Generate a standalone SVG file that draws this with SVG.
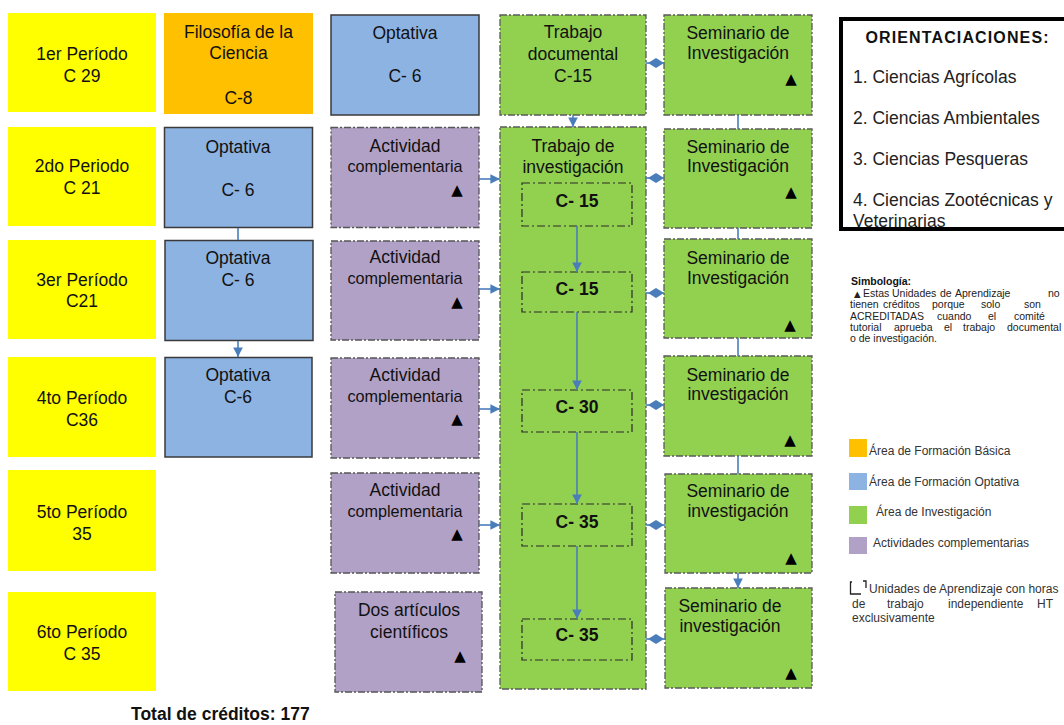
<svg xmlns="http://www.w3.org/2000/svg" width="1064" height="725" viewBox="0 0 1064 725">
<defs>
<style>
text{font-family:"Liberation Sans",Arial,sans-serif;fill:#111}
.t{font-size:17.5px;text-anchor:middle}
.tc{font-size:16.2px;text-anchor:middle}
.tb{font-size:17.5px;font-weight:bold;text-anchor:middle}
.tri{font-family:"DejaVu Sans",sans-serif;font-size:15px;text-anchor:middle;fill:#000}
.per{fill:#FFFF00}
.bas{fill:#FFC000}
.opt{fill:#8DB3E2;stroke:#3A3A3A;stroke-width:1.5}
.act{fill:#B2A1C7;stroke:#555;stroke-width:1.3;stroke-dasharray:7 2 2 2}
.inv{fill:#92D050;stroke:#5A5A5A;stroke-width:1.3;stroke-dasharray:7 2 2 2}
.inner{fill:none;stroke:#2A2A2A;stroke-width:1.2;stroke-dasharray:8 3 2 3}
.con{stroke:#4A7EBB;stroke-width:1.6;fill:none}
.dia{fill:#4A7EBB}
.ori{font-size:17.5px;fill:#222}
.leg{font-size:12px;fill:#333}
.par{font-size:10.5px;fill:#222}
</style>
<marker id="arr" viewBox="0 0 10 10" refX="10" refY="5" markerWidth="6" markerHeight="6" orient="auto" markerUnits="strokeWidth">
<path d="M0,0 L10,5 L0,10 z" fill="#4A7EBB"/>
</marker>
<clipPath id="oriClip"><rect x="843" y="21" width="240" height="206"/></clipPath>
</defs>
<rect width="1064" height="725" fill="#fff"/>

<!-- Period column -->
<g id="p1"><rect class="per" x="8" y="13" width="148" height="99"/><text class="t" x="82" y="60">1er Período</text><text class="t" x="82" y="82">C 29</text></g>
<g id="p2"><rect class="per" x="8" y="127" width="148" height="99"/><text class="t" x="82" y="172">2do Periodo</text><text class="t" x="82" y="194">C 21</text></g>
<g id="p3"><rect class="per" x="8" y="240" width="148" height="99"/><text class="t" x="82" y="286">3er Período</text><text class="t" x="82" y="307">C21</text></g>
<g id="p4"><rect class="per" x="8" y="357" width="148" height="100"/><text class="t" x="82" y="404">4to Período</text><text class="t" x="82" y="426">C36</text></g>
<g id="p5"><rect class="per" x="8" y="470" width="148" height="101"/><text class="t" x="82" y="518">5to Período</text><text class="t" x="82" y="540">35</text></g>
<g id="p6"><rect class="per" x="8" y="592" width="148" height="99"/><text class="t" x="82" y="638">6to Período</text><text class="t" x="82" y="660">C 35</text></g>

<!-- Column 2 -->
<g id="filosofia"><rect class="bas" x="164" y="13" width="149" height="101"/><text class="t" x="238.5" y="38">Filosofía de la</text><text class="t" x="238.5" y="59">Ciencia</text><text class="t" x="238.5" y="104">C-8</text></g>
<g id="opt2"><rect class="opt" x="164.5" y="127.5" width="148" height="100"/><text class="t" x="238" y="153">Optativa</text><text class="t" x="238" y="196">C- 6</text></g>
<g id="opt3"><rect class="opt" x="165" y="240.5" width="148" height="100"/><text class="t" x="238" y="264">Optativa</text><text class="t" x="238" y="286">C- 6</text></g>
<g id="opt4"><rect class="opt" x="165" y="357.5" width="147" height="99.5"/><text class="t" x="238" y="381">Optativa</text><text class="t" x="238" y="403">C-6</text></g>

<!-- Column 3 -->
<g id="opt1"><rect class="opt" x="331" y="15" width="148" height="100"/><text class="t" x="405" y="39">Optativa</text><text class="t" x="405" y="82">C- 6</text></g>
<g id="act2"><rect class="act" x="331" y="127.5" width="148" height="100"/><text class="t" x="405" y="152">Actividad</text><text class="tc" x="405" y="172">complementaria</text><text class="tri" x="457" y="195">▲</text></g>
<g id="act3"><rect class="act" x="331" y="241" width="148" height="99"/><text class="t" x="405" y="263">Actividad</text><text class="tc" x="405" y="284">complementaria</text><text class="tri" x="457" y="307">▲</text></g>
<g id="act4"><rect class="act" x="331" y="358" width="148" height="100"/><text class="t" x="405" y="381">Actividad</text><text class="tc" x="405" y="402">complementaria</text><text class="tri" x="457" y="424">▲</text></g>
<g id="act5"><rect class="act" x="331" y="473" width="148" height="100"/><text class="t" x="405" y="496">Actividad</text><text class="tc" x="405" y="517">complementaria</text><text class="tri" x="457" y="539">▲</text></g>
<g id="articulos"><rect class="act" x="335" y="592" width="147" height="100"/><text class="t" x="409" y="616">Dos artículos</text><text class="t" x="409" y="638">científicos</text><text class="tri" x="460" y="661">▲</text></g>

<!-- Column 4 -->
<g id="documental"><rect class="inv" x="500" y="15" width="146" height="100"/><text class="t" x="573" y="38">Trabajo</text><text class="t" x="573" y="60">documental</text><text class="t" x="573" y="82">C-15</text></g>
<g id="investigacion"><rect class="inv" x="500" y="127" width="146" height="562"/><text class="t" x="573" y="152">Trabajo de</text><text class="t" x="573" y="173">investigación</text></g>
<g id="c15a"><rect class="inner" x="522" y="183" width="110" height="43"/><text class="tb" x="577" y="207">C- 15</text></g>
<g id="c15b"><rect class="inner" x="522" y="272" width="110" height="40"/><text class="tb" x="577" y="295">C- 15</text></g>
<g id="c30"><rect class="inner" x="522" y="390" width="110" height="42"/><text class="tb" x="577" y="413">C- 30</text></g>
<g id="c35a"><rect class="inner" x="522" y="504" width="110" height="42"/><text class="tb" x="577" y="528">C- 35</text></g>
<g id="c35b"><rect class="inner" x="522" y="619" width="110" height="41"/><text class="tb" x="577" y="641">C- 35</text></g>

<!-- Column 5 -->
<g id="sem1"><rect class="inv" x="664" y="15" width="148" height="100"/><text class="t" x="738" y="39">Seminario de</text><text class="t" x="738" y="59">Investigación</text><text class="tri" x="791" y="84">▲</text></g>
<g id="sem2"><rect class="inv" x="664" y="129" width="148" height="99"/><text class="t" x="738" y="153">Seminario de</text><text class="t" x="738" y="172">Investigación</text><text class="tri" x="791" y="197">▲</text></g>
<g id="sem3"><rect class="inv" x="664" y="239" width="148" height="99"/><text class="t" x="738" y="264">Seminario de</text><text class="t" x="738" y="284">Investigación</text><text class="tri" x="790" y="330">▲</text></g>
<g id="sem4"><rect class="inv" x="664" y="356" width="148" height="100"/><text class="t" x="738" y="381">Seminario de</text><text class="t" x="738" y="400">investigación</text><text class="tri" x="790" y="445">▲</text></g>
<g id="sem5"><rect class="inv" x="665" y="474" width="147" height="99"/><text class="t" x="738" y="497">Seminario de</text><text class="t" x="738" y="517">investigación</text><text class="tri" x="791" y="563">▲</text></g>
<g id="sem6"><rect class="inv" x="665" y="588" width="147" height="100"/><text class="t" x="730" y="612">Seminario de</text><text class="t" x="730" y="632">investigación</text><text class="tri" x="791" y="678">▲</text></g>

<!-- Connectors -->
<g id="connectors">
<line class="con" x1="238" y1="228" x2="238" y2="240"/>
<line class="con" x1="238" y1="341" x2="238" y2="357" marker-end="url(#arr)"/>
<line class="con" x1="573" y1="115" x2="573" y2="127" marker-end="url(#arr)"/>
<line class="con" x1="577" y1="226" x2="577" y2="272" marker-end="url(#arr)"/>
<line class="con" x1="577" y1="312" x2="577" y2="390" marker-end="url(#arr)"/>
<line class="con" x1="577" y1="432" x2="577" y2="504" marker-end="url(#arr)"/>
<line class="con" x1="577" y1="546" x2="577" y2="619" marker-end="url(#arr)"/>
<line class="con" x1="479" y1="179" x2="500" y2="179" marker-end="url(#arr)"/>
<line class="con" x1="479" y1="289" x2="500" y2="289" marker-end="url(#arr)"/>
<line class="con" x1="479" y1="409" x2="500" y2="409" marker-end="url(#arr)"/>
<line class="con" x1="479" y1="525" x2="500" y2="525" marker-end="url(#arr)"/>
<line class="con" x1="738" y1="115" x2="738" y2="129"/>
<line class="con" x1="738" y1="228" x2="738" y2="239"/>
<line class="con" x1="738" y1="338" x2="738" y2="356"/>
<line class="con" x1="738" y1="456" x2="738" y2="474"/>
<line class="con" x1="738" y1="573" x2="738" y2="588" marker-end="url(#arr)"/>
<g>
<line class="con" x1="646" y1="63" x2="664" y2="63"/><polygon class="dia" points="648,63 656,58 664,63 656,68"/>
<line class="con" x1="646" y1="178" x2="664" y2="178"/><polygon class="dia" points="648,178 656,173 664,178 656,183"/>
<line class="con" x1="646" y1="293" x2="664" y2="293"/><polygon class="dia" points="648,293 656,288 664,293 656,298"/>
<line class="con" x1="646" y1="405" x2="664" y2="405"/><polygon class="dia" points="648,405 656,400 664,405 656,410"/>
<line class="con" x1="646" y1="525" x2="665" y2="525"/><polygon class="dia" points="648,525 656,520 664,525 656,530"/>
<line class="con" x1="646" y1="639" x2="665" y2="639"/><polygon class="dia" points="648,639 656,634 664,639 656,644"/>
</g>
</g>

<!-- Orientaciones -->
<g id="orientaciones">
<g clip-path="url(#oriClip)">
<text x="957" y="43" font-size="16" font-weight="bold" text-anchor="middle" textLength="183" lengthAdjust="spacing">ORIENTACIACIONES:</text>
<text class="ori" x="853" y="83">1. Ciencias Agrícolas</text>
<text class="ori" x="853" y="124">2. Ciencias Ambientales</text>
<text class="ori" x="853" y="165">3. Ciencias Pesqueras</text>
<text class="ori" x="853" y="206">4. Ciencias Zootécnicas y</text>
<text class="ori" x="853" y="227">Veterinarias</text>
</g>
<rect x="841" y="19" width="240" height="210" fill="none" stroke="#000" stroke-width="4"/>
</g>

<!-- Simbologia -->
<g id="simbologia">
<text x="851" y="285" font-size="10.5" font-weight="bold">Simbología:</text>
<text class="par" y="297"><tspan x="854" font-family="DejaVu Sans, sans-serif" font-size="8.5">▲</tspan><tspan x="863">Estas</tspan><tspan x="892">Unidades</tspan><tspan x="940">de</tspan><tspan x="955">Aprendizaje</tspan><tspan x="1048">no</tspan></text>
<text class="par" y="308"><tspan x="850">tienen</tspan><tspan x="883">créditos</tspan><tspan x="932">porque</tspan><tspan x="981">solo</tspan><tspan x="1024">son</tspan></text>
<text class="par" y="320"><tspan x="850">ACREDITADAS</tspan><tspan x="937">cuando</tspan><tspan x="988">el</tspan><tspan x="1014">comité</tspan></text>
<text class="par" y="331"><tspan x="850">tutorial</tspan><tspan x="894">aprueba</tspan><tspan x="944">el</tspan><tspan x="963">trabajo</tspan><tspan x="1007">documental</tspan></text>
<text class="par" x="850" y="342">o de investigación.</text>
</g>

<g id="legend">
<rect x="849" y="439" width="18" height="18" fill="#FFC000"/>
<text class="leg" x="869" y="455">Área de Formación Básica</text>
<rect x="849" y="473" width="18" height="17" fill="#8DB3E2"/>
<text class="leg" x="869" y="486">Área de Formación Optativa</text>
<rect x="849" y="506" width="18" height="18" fill="#92D050"/>
<text class="leg" x="876" y="516">Área de Investigación</text>
<rect x="849" y="537" width="18" height="17" fill="#B2A1C7"/>
<text class="leg" x="873" y="547">Actividades complementarias</text>
<path d="M852,582 H850.5 V594 H861 M863,581 H866 V588" fill="none" stroke="#222" stroke-width="1.3"/>
<text class="leg" x="869" y="593" font-size="11.5">Unidades de Aprendizaje con horas</text>
<text class="leg" y="608" font-size="11.5"><tspan x="852">de</tspan><tspan x="887">trabajo</tspan><tspan x="948">independiente</tspan><tspan x="1037">HT</tspan></text>
<text class="leg" x="852" y="622" font-size="11.5">exclusivamente</text>
</g>

<g id="total"><text x="131" y="720" font-size="17.5" font-weight="bold">Total de créditos: 177</text></g>
</svg>
